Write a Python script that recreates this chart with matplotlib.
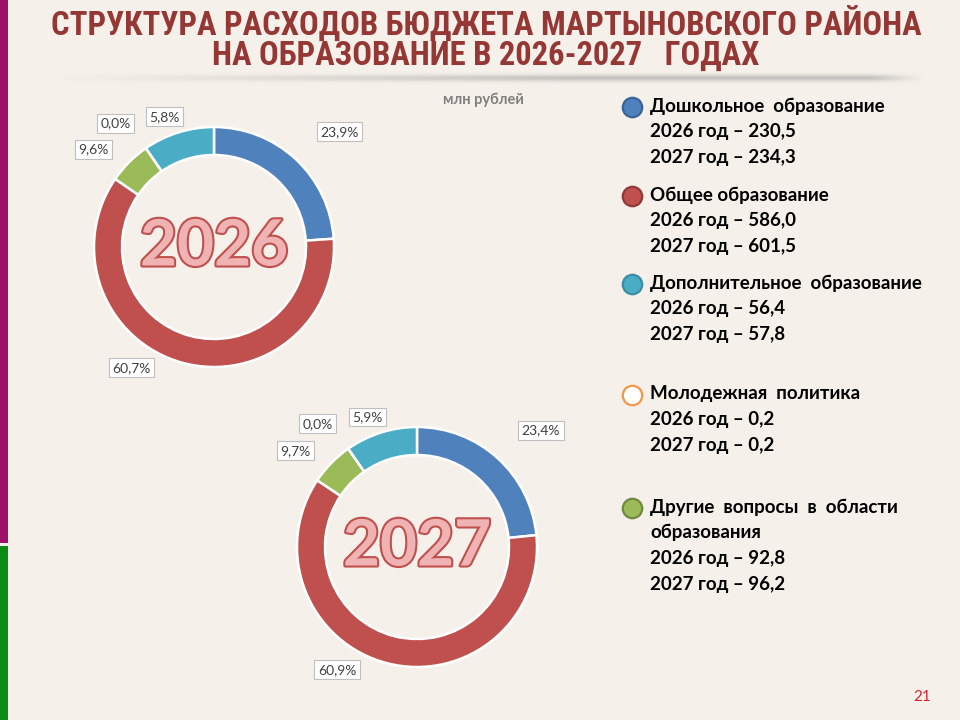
import numpy as np
import matplotlib
matplotlib.use("Agg")
import matplotlib.pyplot as plt
import matplotlib.patheffects as pe

# ---- data ----
categories = ["Дошкольное  образование", "Общее образование",
              "Дополнительное  образование", "Молодежная  политика",
              "Другие  вопросы  в  области\nобразования"]
values_2026 = [230.5, 586.0, 56.4, 0.2, 92.8]
values_2027 = [234.3, 601.5, 57.8, 0.2, 96.2]

# slice shares as drawn in the rings (clockwise from 12 o'clock)
share_2026 = [23.9, 60.7, 5.8, 0.0, 9.6]
share_2027 = [23.4, 60.9, 5.9, 0.0, 9.7]
labels_2026 = ["23,9%", "60,7%", "9,6%", "0,0%", "5,8%"]
labels_2027 = ["23,4%", "60,9%", "9,7%", "0,0%", "5,9%"]

ring_colors = ["#4F81BD", "#C0504D", "#9BBB59", "#F79646", "#4BACC6"]
legend_fill = ["#4F81BD", "#C0504D", "#4BACC6", "white", "#9BBB59"]
legend_edge = ["#3A6496", "#8E3A38", "#3A8DA3", "#F79646", "#6F8A3E"]

BG = "#F5F1EA"
TXT_FONT = ["Lato", "DejaVu Sans"]
TITLE_FONT = ["Roboto Condensed", "Lato", "DejaVu Sans"]

fig = plt.figure(figsize=(9.6, 7.2), dpi=100, facecolor=BG)
ax = fig.add_axes([0, 0, 1, 1])
ax.set_facecolor(BG)


def py(y):
    # image pixel row -> axes y (y up)
    return 720 - y


# left side stripes
ax.axvspan(0, 8, ymin=py(543) / 720, ymax=1, color="#9E1068", lw=0)
ax.axvspan(0, 8, ymin=0, ymax=py(546) / 720, color="#0B8A15", lw=0)

# title
title_lines = ["СТРУКТУРА РАСХОДОВ БЮДЖЕТА МАРТЫНОВСКОГО РАЙОНА",
               "НА ОБРАЗОВАНИЕ В 2026-2027   ГОДАХ"]
for yl, t in zip([24, 56], title_lines):
    ax.text(486, py(yl), t, ha="center", va="center", fontsize=23.5,
            fontweight="bold", color="#953735", family=TITLE_FONT)

# soft shadow under the title
xs = np.linspace(0, 1, 400)
yy = np.linspace(-1, 1, 30)
ramp = np.clip(xs / 0.6, 0, 1) * np.clip((1 - xs) / 0.06, 0, 1)
prof = np.exp(-(yy / 0.35) ** 2)
alpha = 0.45 * np.outer(prof, ramp)
shadow = np.zeros((30, 400, 4))
shadow[..., :3] = 0.55
shadow[..., 3] = alpha
ax.imshow(shadow, extent=(45, 925, py(88), py(68)), aspect="auto", zorder=1)

ax.text(483, py(100), "млн рублей", ha="center", va="center", fontsize=10.5,
        fontweight="bold", color="#7F7F7F", family=TXT_FONT)

# label placement tweaks (degrees, radius factor)
lab_nudge = [4.5, 19, -6, -4, -3.5]
lab_rad = [1.42, 1.22, 1.29, 1.32, 1.16]


def donut(cx, cy, shares, labels, year):
    R = 120
    ax.pie(shares, colors=ring_colors, startangle=90, counterclock=False,
           radius=R, center=(cx, py(cy)),
           wedgeprops=dict(width=28, edgecolor="white", linewidth=1.8))
    total = sum(shares)
    cum = 0
    for v, lab, dn, rf in zip(shares, labels, lab_nudge, lab_rad):
        mid = np.radians(360 * (cum + v / 2) / total + dn)
        cum += v
        ax.text(cx + R * rf * np.sin(mid), py(cy) + R * rf * np.cos(mid), lab,
                ha="center", va="center", fontsize=10, color="#404040",
                family=TXT_FONT,
                bbox=dict(boxstyle="square,pad=0.25", fc="white",
                          ec="#BFBFBF", lw=0.8))
    ax.text(cx, py(cy), year, ha="center", va="center", fontsize=46,
            fontweight="bold", color="#F0B3B3", family=TXT_FONT,
            path_effects=[pe.withStroke(linewidth=3, foreground="#C0504D")])


donut(214, 247, share_2026, labels_2026, "2026")
donut(417, 547, share_2027, labels_2027, "2027")


def fmt(v):
    return f"{v:.1f}".replace(".", ",")


# legend
block_top = [106, 195, 283, 394, 507]
line_h = 25.7
for i, cat in enumerate(categories):
    y0 = block_top[i]
    ax.plot(632, py(y0 + 1), "o", ms=14, mfc=legend_fill[i],
            mec=legend_edge[i], mew=1.6)
    lines = cat.split("\n") + [f"2026 год – {fmt(values_2026[i])}",
                               f"2027 год – {fmt(values_2027[i])}"]
    for k, t in enumerate(lines):
        ax.text(650, py(y0 + k * line_h), t, ha="left", va="center",
                fontsize=13.5, fontweight="bold", color="black",
                family=TXT_FONT)

ax.text(922, py(697), "21", ha="center", va="center", fontsize=11,
        color="#D9232E", family=TXT_FONT)

ax.set_xlim(0, 960)
ax.set_ylim(0, 720)
ax.set_aspect("auto")
ax.axis("off")
fig.savefig("out.png", dpi=100, facecolor=BG)
